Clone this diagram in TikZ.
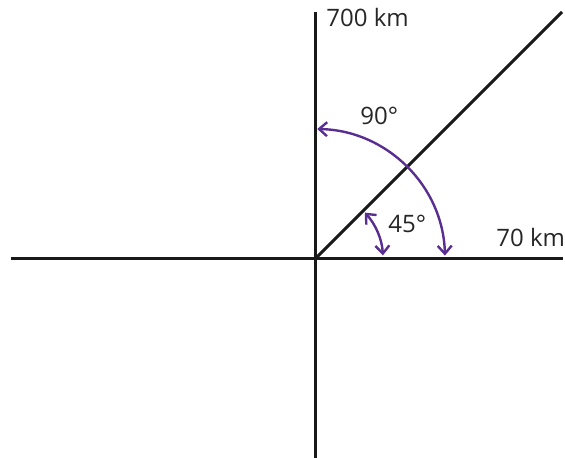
\documentclass[tikz,border=0pt]{standalone}
\usepackage{fontspec}
\setmainfont{Open Sans}
\usetikzlibrary{arrows.meta}
\definecolor{angviolet}{RGB}{88,47,145}

\begin{document}
\begin{tikzpicture}[x=0.5pt,y=0.5pt,
    axis/.style={line width=1.5pt,black!90},
    angarc/.style={line width=1.2pt,angviolet,
      {Straight Barb[length=4pt,width=7pt]}-{Straight Barb[length=4pt,width=7pt]}},
    lbl/.style={anchor=base west,inner sep=0pt,text=black!85,font=\fontsize{12}{14}\selectfont}]
  \useasboundingbox (0,0) rectangle (565,458);

  % axes
  \coordinate (O) at (315,199);
  \coordinate (west) at (11,199);
  \coordinate (east) at (563,199);
  \coordinate (north) at (315,446);
  \coordinate (south) at (315,0);
  \coordinate (diag) at (562,446);
  \draw[axis] (west) -- (east);
  \draw[axis] (south) -- (north);
  \draw[axis] (O) -- (diag);

  % angles
  \draw[angarc] ([shift={(1.5:130)}]O) arc[start angle=1.5,end angle=89,radius=130];
  \draw[angarc] ([shift={(3:68)}]O) arc[start angle=3,end angle=43,radius=68];

  % labels
  \node[lbl] (lkm700) at (326,431) {700 km};
  \node[lbl] (lkm70) at (496,211) {70 km};
  \node[lbl] (l90) at (360,333) {90°};
  \node[lbl] (l45) at (388,225) {45°};
\end{tikzpicture}
\end{document}
